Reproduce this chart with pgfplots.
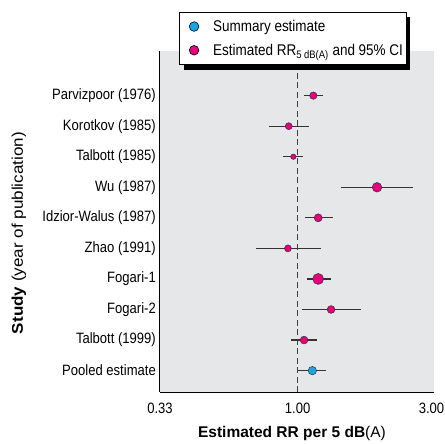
\documentclass[border=0pt]{standalone}
\usepackage{fontspec}
\setmainfont{Liberation Sans}[FakeStretch=0.87]
\newfontfamily\labfont{Liberation Sans}[FakeStretch=1.0]
\newfontfamily\ylabfont{Liberation Sans}[FakeStretch=1.1]
\usepackage{pgfplots}
\usepackage{pgfplotstable}
\pgfplotsset{compat=1.18}
\usetikzlibrary{shadows}

\definecolor{bggray}{HTML}{E6E7E8}
\definecolor{rrmag}{HTML}{E5007D}
\definecolor{sumcyan}{HTML}{1CA6E0}

\pgfplotstableread{
y   x      lo     hi
10  1.135  1.053  1.224
9   0.931  0.796  1.099
8   0.966  0.891  1.047
7   1.896  1.415  2.530
6   1.180  1.064  1.333
5   0.925  0.715  1.204
4   1.180  1.075  1.309
3   1.309  1.039  1.663
2   1.053  0.948  1.166
1   1.126  1.000  1.257
}\forest

\begin{document}
\begin{tikzpicture}
\begin{axis}[
  scale only axis,
  width=274pt, height=341pt,
  xmode=log,
  xmin=0.33, xmax=3,
  ymin=0.3, ymax=11.46,
  xtick={0.33,1,3},
  xticklabels={0.33,1.00,\hspace*{-5pt}3.00},
  ytick={1,...,10},
  yticklabels={Pooled estimate,Talbott (1999),Fogari-2,Fogari-1,Zhao (1991),Idzior-Walus (1987),Wu (1987),Talbott (1985),Korotkov (1985),Parvizpoor (1976)},
  axis x line*=bottom,
  axis y line*=left,
  axis line style={line width=1pt, black},
  major tick length=0pt,
  tick label style={font=\fontsize{15}{17}\selectfont, inner sep=0pt},
  xticklabel style={yshift=-11pt},
  yticklabel style={xshift=-4pt},
  xlabel={\textbf{Estimated RR per 5 dB}(A)},
  ylabel={\textbf{Study} (year of publication)},
  xlabel style={font=\labfont\fontsize{15.5}{17}\selectfont,
    at={(axis description cs:0.5,0)}, anchor=base, yshift=-45pt, xshift=-5pt},
  ylabel style={font=\ylabfont\fontsize{15.5}{17}\selectfont,
    at={(axis description cs:-0.515,0.466)}, anchor=center},
  axis background/.style={fill=bggray},
  clip=false,
  legend style={
    at={(rel axis cs:0.068,1.1152)}, anchor=north west,
    draw=black, line width=0.9pt, fill=white,
    drop shadow={shadow xshift=4.5pt, shadow yshift=-5pt, fill=black, opacity=1},
    font=\fontsize{15.5}{17}\selectfont,
    nodes={inner xsep=0pt, inner ysep=2pt},
    row sep=7pt, inner xsep=3pt, inner ysep=6pt,
  },
  legend cell align=left,
  legend image code/.code={
    \node[anchor=center, inner sep=0pt, outer sep=0pt, minimum width=31pt, minimum height=0pt, draw=none, fill=none] at (3.5pt,0pt) {};
    \draw[#1] plot coordinates {(0pt,0pt)};
  },
]
\addplot[dashed, dash pattern=on 6pt off 3.5pt, line width=1.3pt, black!75, forget plot]
  coordinates {(1,0.3) (1,11.46)};

\addplot[only marks, mark=none, forget plot,
  error bars/.cd, x dir=both, x explicit, error mark=none,
  error bar style={line width=1.2pt, black!80}]
  table[x=x, y=y, x error plus expr=\thisrow{hi}-\thisrow{x}, x error minus expr=\thisrow{x}-\thisrow{lo}] {\forest};

\pgfplotsset{magpt/.style={only marks, mark=*, mark options={fill=rrmag, draw=black!80, line width=0.5pt}, forget plot}}
\addplot[magpt, mark size=3.7] coordinates {(1.135,10)};
\addplot[magpt, mark size=3.5] coordinates {(0.931,9)};
\addplot[magpt, mark size=2.7] coordinates {(0.966,8)};
\addplot[magpt, mark size=4.8] coordinates {(1.896,7)};
\addplot[magpt, mark size=4.0] coordinates {(1.180,6)};
\addplot[magpt, mark size=3.5] coordinates {(0.925,5)};
\addplot[magpt, mark size=5.5] coordinates {(1.180,4)};
\addplot[magpt, mark size=3.9] coordinates {(1.309,3)};
\addplot[magpt, mark size=3.9] coordinates {(1.053,2)};
\addplot[only marks, mark=*, mark size=4.2, mark options={fill=sumcyan, draw=black!80, line width=0.5pt}, forget plot]
  coordinates {(1.126,1)};

\addlegendimage{only marks, mark=*, mark size=4.8, mark options={fill=sumcyan, draw=black, line width=0.6pt}}
\addlegendentry{Summary estimate}
\addlegendimage{only marks, mark=*, mark size=4.8, mark options={fill=rrmag, draw=black, line width=0.6pt}}
\addlegendentry{Estimated RR\textsubscript{5 dB(A)} and 95\% CI}
\end{axis}
\pgfresetboundingbox
\path[use as bounding box] ([shift={(-160pt,-51pt)}]current axis.south west)
  rectangle ([shift={(11pt,51pt)}]current axis.north east);
\end{tikzpicture}
\end{document}
